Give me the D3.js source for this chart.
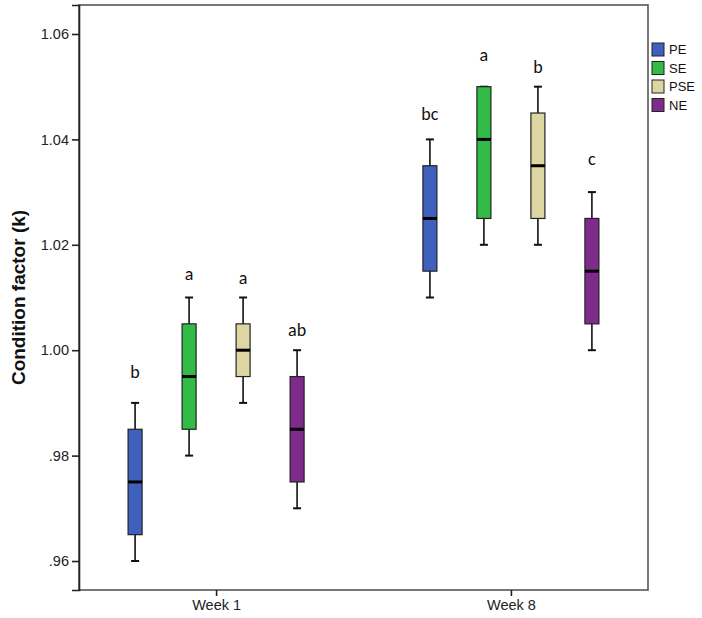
<!DOCTYPE html>
<html>
<head>
<meta charset="UTF-8">
<title>Condition factor</title>
<style>
  body { margin: 0; background: #fff; }
  text { font-family: Arial, "Liberation Sans", sans-serif; }
</style>
</head>
<body>
<script src="https://d3js.org/d3.v7.min.js"></script>
<svg></svg>
<script>
// data
let weeks = ["Week 1", "Week 8"];
let series = ["PE", "SE", "PSE", "NE"];
let colors = ["#4060be", "#33bb47", "#ddd6a2", "#7e2b8b"];
// five-number summaries per week, order follows series
let lowW1 = [0.960, 0.980, 0.990, 0.970];
let q1W1 = [0.965, 0.985, 0.995, 0.975];
let medW1 = [0.975, 0.995, 1.000, 0.985];
let q3W1 = [0.985, 1.005, 1.005, 0.995];
let highW1 = [0.990, 1.010, 1.010, 1.000];
let lowW8 = [1.010, 1.020, 1.020, 1.000];
let q1W8 = [1.015, 1.025, 1.025, 1.005];
let medW8 = [1.025, 1.040, 1.035, 1.015];
let q3W8 = [1.035, 1.050, 1.045, 1.025];
let highW8 = [1.040, 1.050, 1.050, 1.030];
// significance letters and the level they sit at
let lettersW1 = ["b", "a", "a", "ab"];
let lettersW8 = ["bc", "a", "b", "c"];
let letterYW1 = [0.9959, 1.0146, 1.0137, 1.0038];
let letterYW8 = [1.0448, 1.0560, 1.0537, 1.0363];
let yTicks = [0.96, 0.98, 1.00, 1.02, 1.04, 1.06];
let yTickLabels = [".96", ".98", "1.00", "1.02", "1.04", "1.06"];

let boxes = [];
series.forEach((s, i) => {
    boxes.push({week: weeks[0], s: s, c: colors[i], lo: lowW1[i], q1: q1W1[i], med: medW1[i], q3: q3W1[i], hi: highW1[i], letter: lettersW1[i], ly: letterYW1[i]});
    boxes.push({week: weeks[1], s: s, c: colors[i], lo: lowW8[i], q1: q1W8[i], med: medW8[i], q3: q3W8[i], hi: highW8[i], letter: lettersW8[i], ly: letterYW8[i]});
});

let W = 702, H = 618;
let frame = {left: 79, right: 648, top: 5, bottom: 590};

let svg = d3.select("svg").attr("width", W).attr("height", H);

let xScale = d3.scalePoint()
    .domain(weeks)
    .range([frame.left, frame.right])
    .padding(0.465);
let sub = d3.scaleBand()
    .domain(series)
    .range([-108, 108]);
let yScale = d3.scaleLinear()
    .domain([0.9545, 1.0655])
    .range([frame.bottom, frame.top]);

let boxW = 14, capW = 8;
let cx = d => xScale(d.week) + sub(d.s) + sub.bandwidth() / 2;

// frame
svg.append("rect")
    .attr("x", frame.left).attr("y", frame.top)
    .attr("width", frame.right - frame.left).attr("height", frame.bottom - frame.top)
    .attr("fill", "none").attr("stroke", "#555").attr("stroke-width", 1.6);

// y axis
let yAxis = svg.append("g")
    .attr("transform", "translate(" + frame.left + ",0)")
    .call(d3.axisLeft(yScale).tickValues(yTicks).tickSize(7).tickPadding(3)
        .tickFormat((d, i) => yTickLabels[i]));
yAxis.select(".domain").attr("stroke", "#222").attr("stroke-width", 1.6);
yAxis.selectAll(".tick line").attr("stroke", "#222").attr("stroke-width", 1.6);
yAxis.selectAll(".tick text").attr("fill", "#222").style("font-size", "14.5px");

// x axis
let xAxis = svg.append("g")
    .attr("transform", "translate(0," + frame.bottom + ")")
    .call(d3.axisBottom(xScale).tickSize(6).tickPadding(4));
xAxis.select(".domain").remove();
xAxis.selectAll(".tick line").attr("stroke", "#222").attr("stroke-width", 1.6);
xAxis.selectAll(".tick text").attr("fill", "#222").style("font-size", "14.5px");

// y title
svg.append("text")
    .attr("transform", "translate(25," + ((frame.top + frame.bottom) / 2) + ") rotate(-90)")
    .attr("text-anchor", "middle")
    .style("font-size", "19px").style("font-weight", "bold")
    .attr("fill", "#111")
    .text("Condition factor (k)");

// boxplots
let g = svg.selectAll(".box").data(boxes).enter().append("g").attr("class", "box");
g.append("line")
    .attr("x1", cx).attr("x2", cx)
    .attr("y1", d => yScale(d.lo)).attr("y2", d => yScale(d.hi))
    .attr("stroke", "#111").attr("stroke-width", 1.6);
g.append("line")
    .attr("x1", d => cx(d) - capW / 2).attr("x2", d => cx(d) + capW / 2)
    .attr("y1", d => yScale(d.lo)).attr("y2", d => yScale(d.lo))
    .attr("stroke", "#111").attr("stroke-width", 2);
g.append("line")
    .attr("x1", d => cx(d) - capW / 2).attr("x2", d => cx(d) + capW / 2)
    .attr("y1", d => yScale(d.hi)).attr("y2", d => yScale(d.hi))
    .attr("stroke", "#111").attr("stroke-width", 2);
g.append("rect")
    .attr("x", d => cx(d) - boxW / 2).attr("width", boxW)
    .attr("y", d => yScale(d.q3)).attr("height", d => yScale(d.q1) - yScale(d.q3))
    .attr("fill", d => d.c).attr("stroke", "#222").attr("stroke-width", 1.2);
g.append("line")
    .attr("x1", d => cx(d) - boxW / 2).attr("x2", d => cx(d) + boxW / 2)
    .attr("y1", d => yScale(d.med)).attr("y2", d => yScale(d.med))
    .attr("stroke", "#000").attr("stroke-width", 3);
g.append("text")
    .attr("x", cx).attr("y", d => yScale(d.ly))
    .attr("dy", "0.35em")
    .attr("text-anchor", "middle")
    .style("font-family", "Carlito, 'Open Sans', Arial, sans-serif")
    .style("font-size", "18px").attr("fill", "#111")
    .text(d => d.letter);

// legend
let leg = svg.selectAll(".leg").data(series).enter().append("g")
    .attr("class", "leg")
    .attr("transform", (d, i) => "translate(652," + (43 + i * 18.5) + ")");
leg.append("rect")
    .attr("width", 12).attr("height", 13)
    .attr("fill", (d, i) => colors[i]).attr("stroke", "#222").attr("stroke-width", 1);
leg.append("text")
    .attr("x", 17).attr("y", 6.5).attr("dy", "0.35em")
    .style("font-size", "13px").attr("fill", "#111")
    .text(d => d);
</script>
</body>
</html>
